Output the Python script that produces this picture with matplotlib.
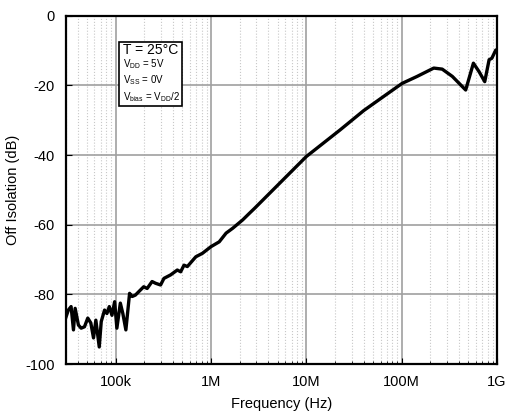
import numpy as np
import matplotlib.pyplot as plt
from matplotlib.ticker import FixedLocator, LogLocator, NullFormatter

plt.rcParams['font.family'] = ['Liberation Sans', 'DejaVu Sans']
plt.rcParams['mathtext.fontset'] = 'custom'
plt.rcParams['mathtext.rm'] = 'Liberation Sans'

# Off isolation curve
freq = [29.4e3, 31.9e3, 34.1e3, 36.1e3, 37.6e3, 40.7e3, 43.5e3, 47.1e3, 51.0e3,
        54.9e3, 58.6e3, 62.0e3, 67.3e3, 70.6e3, 76.5e3, 81.0e3, 85.8e3, 91.5e3,
        97.6e3, 103e3, 112e3, 119e3, 128e3, 140e3, 149e3, 161e3, 175e3, 197e3,
        214e3, 241e3, 262e3, 296e3, 321e3, 377e3, 443e3, 481e3, 521e3, 565e3,
        693e3, 813e3, 998e3, 1.22e6, 1.44e6, 1.69e6, 2.15e6, 2.53e6, 2.86e6,
        10e6, 22.5e6, 40e6, 75.9e6, 101e6, 145e6, 217e6, 266e6, 340e6, 469e6,
        565e6, 647e6, 743e6, 826e6, 881e6, 971e6, 1.0e9]
isol = [-87.4, -84.5, -83.5, -90.2, -84.0, -88.8, -89.7, -89.3, -86.8,
        -88.2, -92.5, -87.4, -95.1, -87.8, -84.5, -85.5, -83.5, -86.0,
        -82.1, -89.7, -82.5, -85.5, -90.2, -79.7, -80.6, -80.2, -79.2, -77.8,
        -78.3, -76.3, -76.8, -77.3, -75.4, -74.4, -73.0, -73.5, -71.6, -72.0,
        -69.2, -68.2, -66.3, -64.9, -62.4, -61.0, -58.6, -56.7, -55.3,
        -40.4, -32.8, -27.2, -21.8, -19.4, -17.4, -15.0, -15.3, -17.4, -21.3,
        -13.6, -16.0, -18.9, -12.6, -12.2, -9.8, -9.9]

xticks = [1e5, 1e6, 1e7, 1e8, 1e9]
xticklabels = ['100k', '1M', '10M', '100M', '1G']
yticks = [0, -20, -40, -60, -80, -100]

fig = plt.figure(figsize=(5.14, 4.17), dpi=100)
ax = fig.add_axes([0.128, 0.127, 0.839, 0.835])
ax.set_xscale('log')
ax.set_xlim(3e4, 1e9)
ax.set_ylim(-100, 0)

ax.xaxis.set_major_locator(FixedLocator(xticks))
ax.set_xticklabels(xticklabels)
ax.xaxis.set_minor_locator(LogLocator(base=10, subs=np.arange(2, 10), numticks=20))
ax.xaxis.set_minor_formatter(NullFormatter())
ax.set_yticks(yticks)
ax.set_yticklabels([str(v) for v in yticks])

ax.grid(which='major', color='#a0a0a0', lw=1.2, ls='-')
ax.grid(which='minor', axis='x', color='#c8c8c8', lw=0.8, ls=':')
ax.set_axisbelow(True)

ax.plot(freq, isol, color='black', lw=2.4, solid_joinstyle='round')

for s in ax.spines.values():
    s.set_linewidth(1.6)
ax.tick_params(which='both', direction='in', labelsize=10.5, pad=8)
ax.tick_params(which='major', length=4)
ax.tick_params(which='minor', length=2)

ax.set_xlabel('Frequency (Hz)', fontsize=10.5, labelpad=6)
ax.set_ylabel('Off Isolation (dB)', fontsize=10.5, labelpad=4)

# condition box
box = plt.Rectangle((0.124, 0.741), 0.145, 0.185, transform=ax.transAxes,
                    facecolor='white', edgecolor='black', lw=1.2, zorder=2.5)
ax.add_patch(box)
ax.text(0.132, 0.903, 'T = 25\u00b0C', transform=ax.transAxes, fontsize=10,
        va='center', ha='left', zorder=3)
ax.text(0.132, 0.862, r'V$_{\mathrm{DD}}$ = 5V', transform=ax.transAxes, fontsize=7,
        va='center', ha='left', zorder=3)
ax.text(0.132, 0.816, r'V$_{\mathrm{SS}}$ = 0V', transform=ax.transAxes, fontsize=7,
        va='center', ha='left', zorder=3)
ax.text(0.132, 0.768, r'V$_{\mathrm{bias}}$ = V$_{\mathrm{DD}}$/2', transform=ax.transAxes,
        fontsize=7, va='center', ha='left', zorder=3)

fig.savefig('out.png', dpi=100)
